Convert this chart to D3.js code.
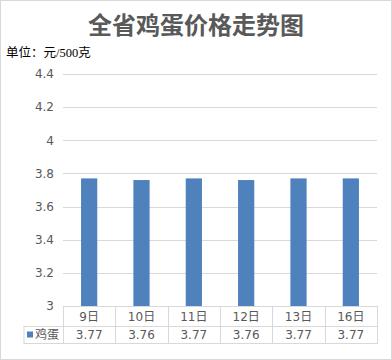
<!DOCTYPE html>
<html><head><meta charset="utf-8">
<script src="https://cdn.jsdelivr.net/npm/d3@7"></script>
<style>body{margin:0;background:#fff}svg{display:block}</style>
</head><body>
<svg id="c" width="392" height="360"></svg>
<script>
const categories = ["9日","10日","11日","12日","13日","16日"];
const values = [3.77,3.76,3.77,3.76,3.77,3.77];
const yTicks = [3,3.2,3.4,3.6,3.8,4,4.2,4.4];
const tickLabels = ["3","3.2","3.4","3.6","3.8","4","4.2","4.4"];
const seriesName = "鸡蛋";
const title = "全省鸡蛋价格走势图";
const unitLabel = "单位：元/500克";

(function(){
const svg = d3.select("#c");
const pl = 63, pr = 377, pt = 74, pb = 306;
const rowH1 = 20, rowH2 = 17, legendLeft = 23.5;
const grid = "#d9d9d9", txt = "#595959", barColor = "#4f81bd";
const font = "'DejaVu Sans', 'Noto Sans CJK SC', sans-serif";

svg.append("rect").attr("x",0.5).attr("y",0.5).attr("width",391).attr("height",359)
  .attr("fill","#fff").attr("stroke",grid);

svg.append("text").attr("x",196).attr("y",34).attr("text-anchor","middle")
  .attr("font-family","'Noto Sans CJK SC', sans-serif").attr("font-weight","bold")
  .attr("font-size",24).attr("fill",txt).text(title);

svg.append("text").attr("x",6).attr("y",57)
  .attr("font-family","'Liberation Serif', 'Noto Sans CJK SC', serif")
  .attr("font-size",12.5).attr("fill","#000").text(unitLabel);

const x = d3.scaleBand().domain(categories).range([pl,pr]).padding(0);
const y = d3.scaleLinear().domain([3,4.4]).range([pb,pt]);

svg.append("g").selectAll("line").data(yTicks.slice(1)).join("line")
  .attr("x1",pl).attr("x2",pr)
  .attr("y1",d=>Math.round(y(d))+0.5).attr("y2",d=>Math.round(y(d))+0.5)
  .attr("stroke",grid);

const yAxis = d3.axisLeft(y).tickValues(yTicks).tickFormat((d,i)=>tickLabels[i]).tickSize(0).tickPadding(9);
const ga = svg.append("g").attr("transform",`translate(${pl},0)`).call(yAxis);
ga.select(".domain").remove();
ga.selectAll("text").attr("font-family",font).attr("font-size",12).attr("fill",txt);

const bw = x.bandwidth()*0.31;
svg.append("g").selectAll("rect").data(values).join("rect")
  .attr("x",(d,i)=>x(categories[i])+x.bandwidth()/2-bw/2)
  .attr("width",bw)
  .attr("y",d=>y(d)).attr("height",d=>y(3)-y(d))
  .attr("fill",barColor);

const t = svg.append("g").attr("stroke",grid).attr("fill","none");
const r0 = pb, r1 = pb+rowH1, r2 = pb+rowH1+rowH2;
t.append("line").attr("x1",pl).attr("x2",pr).attr("y1",r0+0.5).attr("y2",r0+0.5);
t.append("line").attr("x1",legendLeft).attr("x2",pr).attr("y1",r1+0.5).attr("y2",r1+0.5);
t.append("line").attr("x1",legendLeft).attr("x2",pr).attr("y1",r2+0.5).attr("y2",r2+0.5);
t.append("line").attr("x1",legendLeft+0.5).attr("x2",legendLeft+0.5).attr("y1",r1).attr("y2",r2+1);
const bounds = categories.map(c=>x(c)).concat([pr]);
t.selectAll(".v").data(bounds).join("line")
  .attr("x1",d=>Math.round(d)+0.5).attr("x2",d=>Math.round(d)+0.5)
  .attr("y1",r0).attr("y2",r2+1);

svg.append("g").selectAll("text").data(categories).join("text")
  .attr("x",d=>x(d)+x.bandwidth()/2).attr("y",r0+rowH1/2+4.5)
  .attr("text-anchor","middle").attr("font-family",font).attr("font-size",12)
  .attr("fill",txt).text(d=>d);

svg.append("g").selectAll("text").data(values).join("text")
  .attr("x",(d,i)=>x(categories[i])+x.bandwidth()/2).attr("y",r1+rowH2/2+4.5)
  .attr("text-anchor","middle").attr("font-family",font).attr("font-size",12)
  .attr("fill",txt).text(d=>d.toFixed(2));

svg.append("rect").attr("x",27).attr("y",r1+5.5).attr("width",6).attr("height",6).attr("fill",barColor);
svg.append("text").attr("x",35).attr("y",r1+rowH2/2+4.5)
  .attr("font-family","'Noto Sans CJK SC', sans-serif").attr("font-size",12)
  .attr("fill",txt).text(seriesName);
})();
</script>
</body></html>
